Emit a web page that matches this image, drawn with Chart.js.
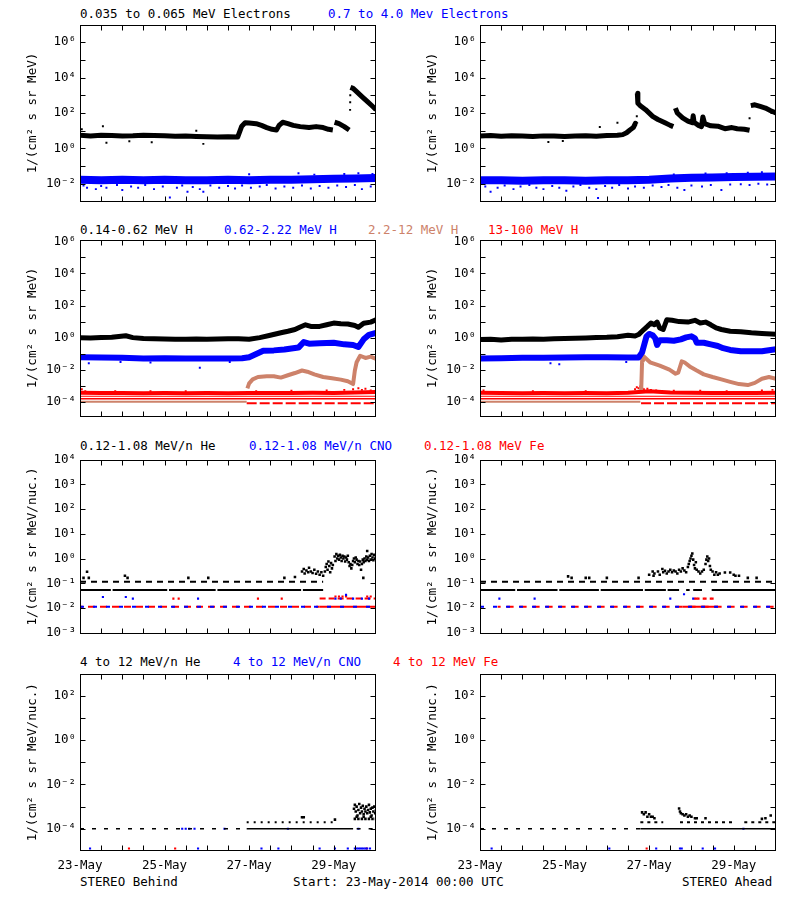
<!DOCTYPE html>
<html>
<head>
<meta charset="utf-8">
<script src="https://cdn.jsdelivr.net/npm/chart.js@4.4.1/dist/chart.umd.min.js"></script>
<style>
  body { margin: 0; background: #fff; width: 800px; height: 900px; position: relative; overflow: hidden;
         font-family: "DejaVu Sans Mono", monospace; font-size: 12.5px; }
  canvas { position: absolute; }
  .t { position: absolute; white-space: pre; line-height: 14px; }
</style>
</head>
<body>
<div class="t" style="left:80px;top:7px;color:#000">0.035 to 0.065 MeV Electrons</div>
<div class="t" style="left:328px;top:7px;color:#0000ff">0.7 to 4.0 Mev Electrons</div>
<div class="t" style="left:80px;top:223px;color:#000">0.14-0.62 MeV H</div>
<div class="t" style="left:224px;top:223px;color:#0000ff">0.62-2.22 MeV H</div>
<div class="t" style="left:368px;top:223px;color:#cd826a">2.2-12 MeV H</div>
<div class="t" style="left:488px;top:223px;color:#ff0000">13-100 MeV H</div>
<div class="t" style="left:80px;top:439px;color:#000">0.12-1.08 MeV/n He</div>
<div class="t" style="left:249px;top:439px;color:#0000ff">0.12-1.08 MeV/n CNO</div>
<div class="t" style="left:424px;top:439px;color:#ff0000">0.12-1.08 MeV Fe</div>
<div class="t" style="left:80px;top:655px;color:#000">4 to 12 MeV/n He</div>
<div class="t" style="left:233px;top:655px;color:#0000ff">4 to 12 MeV/n CNO</div>
<div class="t" style="left:393px;top:655px;color:#ff0000">4 to 12 MeV Fe</div>
<div class="t" style="left:80px;top:875px;color:#000">STEREO Behind</div>
<div class="t" style="left:293px;top:875px;color:#000">Start: 23-May-2014 00:00 UTC</div>
<div class="t" style="left:682px;top:875px;color:#000">STEREO Ahead</div>

<script>
const FONT = '"DejaVu Sans Mono", monospace';
const BLACK = '#000000', BLUE = '#0000ff', RED = '#ff0000', SIENNA = '#cd826a';

// time axis: hours since 23-May-2014 00:00 UTC
const hourTicks = [0, 12, 24, 36, 48, 60, 72, 84, 96, 108, 120, 132, 144, 156, 168];
const dayLabels = ['23-May', '25-May', '27-May', '29-May'];

// ---------- row 1: electrons ----------
// Behind
const eLoB_t = [0,6,12,18,24,30,36,42,48,54,60,66,72,78,84,89.5,91.8,93.7,96,100,103,106,109,111.5,113,115,118,121,125,130,134,138,141,143.5,144,144.5,147,150,152.8,153.2,153.5,155,157,160,163,166,168];
const eLoB_v = [5.5,5.0,5.6,5.3,5.0,5.2,5.6,5.4,5.2,4.8,5.0,4.7,4.5,4.4,4.6,4.4,18,28,27,25,20,15,12,11,20,30,25,20,17,15,17,15,12,11,null,30,25,17,11,null,2800,2450,1600,850,450,240,155];
const eLoB_x = [[1,12],[13,18],[15,2.1],[28,2.5],[40.7,2.2],[66,10],[70,1.8],[153.3,150],[153.35,400],[153.4,1000]];
const eHiB_v = [0.017,0.016,0.017,0.016,0.017,0.016,0.016,0.017,0.016,0.017,0.017,0.018,0.019,0.020,0.021];
const eHiB_x = [[2,0.008],[4,0.006],[9,0.005],[12,0.0075],[15,0.006],[21,0.0085],[24,0.0045],[29,0.007],[33,0.006],[37,0.0085],[42,0.005],[47,0.007],[51,0.0017],[55,0.006],[58,0.008],[61,0.0036],[64,0.0065],[68,0.005],[70,0.0036],[74,0.008],[79,0.006],[84,0.0075],[88,0.0055],[92,0.008],[97,0.006],[102,0.007],[106,0.0085],[111,0.0055],[116,0.007],[121,0.006],[126,0.008],[131,0.0055],[136,0.0075],[141,0.006],[146,0.008],[151,0.0065],[156,0.0085],[160,0.005],[165,0.007],[96,0.035],[124,0.04],[133,0.033],[150,0.036],[158,0.04],[166,0.036]];
// Ahead
const eLoA_t = [0,6,12,18,24,30,36,42,48,54,60,66,72,78,81,83.2,85.1,87,88.2,88.9,89.1,89.3,89.6,91,94,98,101,105,108,109.7,110.3,110.9,112,115,118,120.5,121,121.5,124,125.7,126.5,127.5,131,135,139,143,146,150,153,153.3,153.7,156,159,162,165,168];
const eLoA_v = [5.0,5.3,4.8,5.2,5.0,4.7,5.1,5.0,4.7,5.0,5.2,4.8,5.3,5.5,6.0,7.7,11,15,26,22,null,1300,360,260,155,65,43,28,20,17,null,190,100,53,35,28,70,30,20,17,60,25,19,18,13,15,13,12,10.5,null,260,290,235,190,135,100];
const eLoA_x = [[38.8,2.3],[47,2.6],[68,16],[78,28],[89,65],[153,50]];
const eHiA_v = [0.016,0.016,0.015,0.016,0.016,0.015,0.016,0.016,0.017,0.020,0.022,0.023,0.024,0.025,0.026];
const eHiA_x = [[3,0.007],[6,0.0036],[10,0.006],[14,0.008],[19,0.005],[23,0.007],[28,0.0085],[32,0.006],[36,0.005],[41,0.0075],[45,0.006],[49,0.004],[53,0.007],[57,0.0085],[62,0.006],[66,0.005],[67,0.0016],[71,0.0075],[75,0.006],[79,0.0085],[84,0.0055],[88,0.007],[93,0.006],[98,0.008],[103,0.0065],[107,0.0085],[112,0.006],[116,0.0045],[120,0.008],[126,0.007],[131,0.0085],[137,0.0045],[142,0.009],[148,0.0095],[153,0.0085],[158,0.01],[163,0.009],[110,0.034],[128,0.038],[140,0.04],[152,0.042],[160,0.045]];

// ---------- row 2: protons ----------
// Behind
const pLoB_t = [0,6,12,18,26,30,36,42,48,54,60,66,72,78,84,90,96,102,108,114,118,122,125,128,131,136,140,144,148,152,156,158,161,165,168];
const pLoB_v = [0.98,0.95,1.0,1.05,1.3,1.0,0.88,0.85,0.82,0.8,0.8,0.82,0.8,0.82,0.85,0.85,0.8,1.0,1.4,2.0,2.5,3.2,4.6,6.3,5.0,5.0,6.3,8.1,7.3,7.0,5.7,4.4,7.8,9.3,13];
const pMidB_t = [0,12,24,36,48,60,72,84,92,96,100,104,110,116,120,124,127,130,136,144,150,155,158,161,164,168];
const pMidB_v = [0.06,0.058,0.055,0.05,0.052,0.05,0.05,0.05,0.052,0.06,0.094,0.15,0.16,0.18,0.21,0.24,0.53,0.42,0.44,0.48,0.38,0.35,0.26,0.78,1.5,2.0];
const pMidB_x = [[5,0.025],[23,0.03],[68,0.013],[85,0.03],[40,0.028]];
const pHiB_base = [[0, 94.6], 1e-4];
const pHiB_t = [95,96,98,101,106,110,114,118,122,126,129,133,138,143,148,152,155,156,157,159,162,165,168];
const pHiB_v = [6.8e-4,1.4e-3,2.5e-3,3.5e-3,3.9e-3,3.9e-3,3.2e-3,4.5e-3,6.2e-3,8.9e-3,7.5e-3,5.1e-3,3.5e-3,2.9e-3,2.4e-3,1.9e-3,1.26e-3,8.9e-3,0.029,0.074,0.054,0.065,0.047];
const pTopB_v = [3.6e-4,3.5e-4,3.5e-4,3.4e-4,3.5e-4,3.4e-4,3.5e-4,3.4e-4,3.5e-4,3.5e-4,3.5e-4,3.6e-4,3.5e-4,3.8e-4,4.0e-4];
const pTopB_x = [[0,5e-4],[1,6e-4],[3,4.5e-4],[20,4.5e-4],[40,4.5e-4],[60,4.5e-4],[100,4.5e-4],[120,4.8e-4],[140,5e-4],[150,5.5e-4],[155,6e-4],[158,7e-4],[160,5.5e-4],[162,6.5e-4],[165,5e-4]];
const pTopB_low = [94.6, 168];
// Ahead
const pLoA_t = [0,6,12,18,24,30,36,42,48,54,60,66,72,78,84,88,90,93,95,97,99,100.5,102,104,106,109,113,118,122,125,128,131,134,137,142,148,154,160,168];
const pLoA_v = [0.75,0.8,0.72,0.8,0.78,0.82,0.8,0.85,0.88,0.9,0.95,1.0,1.05,1.15,1.4,1.25,1.55,3.2,5,8.1,6.3,9.3,4.0,3.2,13,12,10,9.3,12,8.1,9.3,6.3,4.0,3.2,2.5,2.3,2.0,1.8,1.6];
const pMidA_t = [0,12,24,36,48,60,72,84,90,92,93,94.5,96,98,99.5,100.5,102,106,110,114,117,120,122,123,127,131,135,138,142,148,154,160,168];
const pMidA_v = [0.05,0.052,0.055,0.055,0.058,0.06,0.06,0.058,0.058,0.12,0.30,1.2,1.7,1.4,0.9,0.35,0.68,0.68,0.64,0.78,1.03,1.2,0.9,0.48,0.48,0.38,0.3,0.22,0.17,0.14,0.14,0.14,0.19];
const pMidA_x = [[40,0.025],[45,0.022],[83,0.03]];
const pHiA_base = [[0, 91], 1e-4];
const pHiA_t = [91.5,92,92.5,96.5,102,107.5,111,112.5,114.5,116,119,123,127,132,137,142,147,152,156,160,164,168];
const pHiA_v = [5.4e-4,0.036,0.074,0.029,0.018,0.01,5.6e-3,6.5e-3,0.033,0.029,0.016,8.9e-3,5.1e-3,3.5e-3,2.5e-3,1.75e-3,1.26e-3,1.1e-3,1.5e-3,2.7e-3,3.5e-3,2.7e-3];
const pTopA_v = [3.6e-4,3.5e-4,3.4e-4,3.5e-4,3.4e-4,3.5e-4,3.4e-4,3.6e-4,4.5e-4,3.8e-4,3.6e-4,3.5e-4,3.5e-4,3.5e-4,3.6e-4];
const pTopA_x = [[2,5e-4],[30,4.5e-4],[60,4.6e-4],[88,6e-4],[89,8e-4],[90,7e-4],[91,9e-4],[92,7.5e-4],[93,6e-4],[95,6.5e-4],[97,5.5e-4],[100,5e-4],[110,4.8e-4],[125,4.8e-4],[140,4.6e-4],[160,5e-4],[166,5.5e-4]];
const pTopA_low = [91.4, 168];
// count-rate floor levels of the 13-100 MeV channel
const pTopLevels = [2.2e-4, 1.55e-4, 8.1e-5];

// ---------- row 3: 0.12-1.08 MeV/n ions ----------
const heLevel = 0.053, heLevel2 = 0.115, ionLevel = 0.0112, ionLevel2 = 0.024;
// Behind
const heB_segs = [[0,17.5],[18.5,49.5],[50.5,77],[78,125.5],[126.5,138]];
const heB_dot = [[0,138]];
const heB_pts = [[2,0.165],[4,0.29],[5,0.165],[25.5,0.2],[27,0.165],[61.5,0.165],[72.8,0.165],[116,0.165],[122,0.18],
  [126,0.3],[127,0.38],[127.5,0.25],[128.5,0.33],[129.5,0.28],[130,0.42],[131,0.3],[132,0.26],[133,0.35],[134,0.24],[135,0.3],[136,0.22],[137,0.28],[138,0.2],
  [139,0.3],[139.5,0.45],[140,0.6],[140.5,0.35],[141,0.75],[141.5,0.5],[142,0.28],[142.5,0.65],[143,0.4],[143.5,0.55],
  [144.5,1.2],[145,0.8],[145.5,1.5],[146,1.0],[146.5,1.3],[147,0.9],[147.5,1.4],[148,1.1],[148.5,0.8],[149,1.3],[149.5,1.0],[150,1.2],[150.5,0.75],[151,1.1],[151.5,0.9],[152,1.3],[152.5,0.7],[153,0.5],[153.5,0.6],[154,0.4],[154.5,0.55],[155,0.8],[155.5,1.0],[156,0.7],[156.5,1.1],[157,0.9],[157.5,0.6],[158,0.8],[158.5,0.55],[159,0.75],[159.5,0.35],[160,0.6],[160.5,0.9],[160.8,0.165],[161,0.7],[161.5,1.0],[162,0.8],[162.5,1.2],[163,0.9],[163,2.0],[163.5,1.1],[164,0.8],[164.5,1.3],[165,0.9],[165.5,1.5],[166,1.1],[166.5,0.85],[167,1.4],[167.5,1.0],[168,1.2]];
const cnoB_pts = [[13,0.028],[26,0.028],[30,0.024],[67,0.024],[145,0.024],[148,0.024],[151,0.034],[155,0.024],[160,0.024],[164,0.024]];
const feB_pts = [[53,0.024],[56,0.024],[101,0.024],[114.5,0.024],[145,0.029],[147,0.029],[149,0.029],[151,0.029],[163,0.029],[165,0.029]];
const feB_solid = [[136,168]];
// Ahead
const heA_segs = [[0,20],[21,44],[45,67.5],[68.5,92.5],[93.5,105.5],[106.5,113],[117,119],[121,126],[131.5,168]];
const heA_dot = [[0,168]];
const heA_pts = [[50,0.19],[52,0.165],[60,0.165],[62,0.165],[72,0.165],[90,0.165],[98.5,0.2],[145,0.2],[147,0.2],[152,0.165],[157,0.165],
  [96,0.22],[98,0.3],[99,0.25],[101,0.3],[102,0.22],[103.5,0.38],[104,0.28],[105,0.32],[106,0.25],[107,0.3],[108,0.35],[109,0.28],[110,0.33],[111,0.3],[112,0.25],[113,0.35],[114,0.3],[115,0.4],[116,0.33],[117,0.28],[118,0.45],[118.5,0.6],[119,0.8],[119.5,1.0],[120,1.3],[120.5,1.6],[121,0.9],[121.5,0.55],[122,0.4],[122.5,0.7],[123,0.35],[124,0.3],[125,0.25],[126,0.3],[127,0.35],[128,0.6],[128.5,0.9],[129,1.2],[129.5,0.8],[130,1.0],[130.5,0.5],[131,0.35],[132,0.3],[133,0.22],[134,0.28],[135,0.22],[136,0.25],[139,0.27],[142,0.27],[144,0.22]];
const cnoA_pts = [[11,0.024],[31,0.024],[108,0.024],[115.8,0.036],[121,0.024]];
const feA_pts = [[122,0.024],[123,0.024],[124,0.024],[127,0.024],[128,0.024],[131,0.024],[132,0.024]];
const feA_solid = [[115,135]];

// ---------- row 4: 4-12 MeV/n ions ----------
const he4Level = 1e-4, he4Level2 = 2e-4, floor4 = 1.3e-5;
// Behind
const he4B_dash = [[0,94.6],[157,168]];
const he4B_solid = [[94.6,155]];
const he4B_dot = [[94.6,143.8]];
const he4B_pts = [[126,3.3e-4],[127,3.3e-4],[144.7,2.6e-4],
  [155.5,8e-4],[156,1.2e-3],[156.5,6e-4],[157,1.0e-3],[157.5,4e-4],[158,7e-4],[158.5,1.3e-3],[159,5e-4],[159.5,9e-4],[160,6e-4],[160.5,1.1e-3],[161,4.5e-4],[161.5,8e-4],[162,6e-4],[162.5,1.0e-3],[163,5e-4],[163.5,7e-4],[164,1.2e-3],[164.5,5.5e-4],[165,8e-4],[165.5,4e-4],[166,9e-4],[166.5,6e-4],[167,1.0e-3],[167.5,5e-4],[168,7e-4],
  [156,2.8e-4],[158,2.8e-4],[160,2.8e-4],[162,2.8e-4],[164,2.8e-4],[166,2.8e-4],[168,2.8e-4],[157,3.5e-4],[161,3.5e-4],[165,3.5e-4]];
const cno4B_pts = [[5.7,1.3e-5],[67,1.3e-5],[103,1.3e-5],[112.6,1.3e-5],[136,1.3e-5],[144.7,1.3e-5],[152,1.3e-5],[156,1.3e-5],[157,1.3e-5],[158,1.3e-5],[159,1.3e-5],[160,1.3e-5],[161,1.3e-5],[162,1.3e-5],[163,1.3e-5],[164.6,1.3e-5],
  [58,1e-4],[60,1e-4],[62,1e-4],[65,1e-4],[82,1e-4],[118,1e-4],[158,1e-4]];
const fe4B_pts = [[27.8,1.3e-5],[54,1.3e-5],[162.7,1.3e-5]];
// Ahead
const he4A_dash = [[0,91]];
const he4A_solid = [[91,168]];
const he4A_dot = [[91,104],[113.5,143.8],[150,168]];
const he4A_pts = [[92,5.5e-4],[93,4.5e-4],[94,5.5e-4],[95,3.5e-4],[96,4.5e-4],[97,3.5e-4],[98,3.5e-4],[99,3e-4],[113,8.3e-4],[113.5,6e-4],[114,5e-4],[115,4.5e-4],[116,4e-4],[117,4.5e-4],[118,3.5e-4],[119,4e-4],[120,3.5e-4],[122,3e-4],[123,3e-4],[128,3e-4],[160,2.8e-4],[162,3e-4],[165,4e-4]];
const cno4A_pts = [[6.6,1.3e-5],[73.4,1.3e-5],[100,1.3e-5],[113.5,1.3e-5],[114.5,1.3e-5],[126.4,1.3e-5],[133.4,1.3e-5],[149.5,1e-4]];
const fe4A_pts = [[94.6,1.3e-5]];

// ---------- helpers ----------
const P = (t, v) => t.map((x, i) => ({ x: x, y: v[i] }));
const XY = pairs => pairs.map(p => ({ x: p[0], y: p[1] }));
function segs(list, value) {
  const out = [];
  list.forEach(s => { out.push({ x: s[0], y: value }, { x: s[1], y: value }, { x: s[1], y: null }); });
  return out;
}
function line(data, color, width, extra) {
  return Object.assign({ data: data, showLine: true, borderColor: color, borderWidth: width,
    borderJoinStyle: 'round', borderCapStyle: 'butt',
    pointRadius: 0, fill: false, spanGaps: false, tension: 0 }, extra || {});
}
function dots(data, color, r) {
  return { data: data, showLine: false, pointStyle: 'rect', pointRadius: r || 1.5,
    backgroundColor: color, borderWidth: 0 };
}
function sup(n) {
  const m = { '-': '\u207B', '0': '\u2070', '1': '\u00B9', '2': '\u00B2', '3': '\u00B3', '4': '\u2074', '5': '\u2075', '6': '\u2076', '7': '\u2077' };
  return String(n).split('').map(c => m[c]).join('');
}

// box with inward tick marks on all four sides
const frame = {
  id: 'frame',
  afterDraw(chart) {
    const { ctx, chartArea: a, scales: { x, y } } = chart;
    const L = Math.round(a.left) + 0.5, R = Math.round(a.right) - 0.5;
    const T = Math.round(a.top) + 0.5, B = Math.round(a.bottom) - 0.5;
    ctx.save();
    ctx.strokeStyle = '#000';
    ctx.lineWidth = 1;
    ctx.strokeRect(L, T, R - L, B - T);
    ctx.beginPath();
    x.ticks.forEach(t => {
      const px = Math.round(x.getPixelForValue(t.value)) + 0.5;
      if (px <= L + 1 || px >= R - 1) return;
      ctx.moveTo(px, B); ctx.lineTo(px, B - 5);
      ctx.moveTo(px, T); ctx.lineTo(px, T + 5);
    });
    y.ticks.forEach(t => {
      const py = Math.round(y.getPixelForValue(t.value)) + 0.5;
      if (py <= T + 1 || py >= B - 1) return;
      ctx.moveTo(L, py); ctx.lineTo(L + 5, py);
      ctx.moveTo(R, py); ctx.lineTo(R - 5, py);
    });
    ctx.stroke();
    ctx.restore();
  }
};

function makePanel(cfg) {
  const xh = cfg.bottom ? 30 : 10;
  const cv = document.createElement('canvas');
  cv.width = 400;
  cv.height = cfg.h + 10 + xh;
  cv.style.left = (cfg.col * 400) + 'px';
  cv.style.top = (cfg.top - 10) + 'px';
  document.body.appendChild(cv);
  const decades = [];
  for (let e = cfg.lo; e <= cfg.hi; e++) decades.push(e);
  new Chart(cv.getContext('2d'), {
    type: 'scatter',
    data: { datasets: cfg.datasets },
    options: {
      responsive: false, animation: false, devicePixelRatio: 1,
      layout: { padding: { top: 10, right: 24, left: 0, bottom: 0 } },
      plugins: { legend: { display: false }, tooltip: { enabled: false } },
      scales: {
        x: {
          type: 'linear', min: 0, max: 168,
          grid: { display: false, drawTicks: false }, border: { display: false },
          afterBuildTicks: s => { s.ticks = hourTicks.map(v => ({ value: v })); },
          afterFit: s => { s.height = xh; },
          ticks: { display: !!cfg.bottom, autoSkip: false, maxRotation: 0, padding: 7, color: '#000',
            font: { family: FONT, size: 12.5 },
            callback: v => (v % 48 === 0 && v < 168) ? dayLabels[v / 48] : '' }
        },
        y: {
          type: 'logarithmic', min: cfg.min, max: cfg.max,
          grid: { display: false, drawTicks: false }, border: { display: false },
          afterBuildTicks: s => { s.ticks = decades.map(e => ({ value: Math.pow(10, e) })); },
          afterFit: s => { s.width = 80; },
          ticks: { autoSkip: false, padding: 4, color: '#000', font: { family: FONT, size: 12.5 },
            callback: v => { const e = Math.round(Math.log10(v)); return cfg.labels.includes(e) ? '10' + sup(e) : ''; } },
          title: { display: true, text: cfg.title, color: '#000', font: { family: FONT, size: 12.5 },
            padding: { top: 25, bottom: 0 } }
        }
      }
    },
    plugins: [frame]
  });
}

const T1 = '1/(cm\u00B2 s sr MeV)';
const T2 = '1/(cm\u00B2 s sr MeV/nuc.)';

// row 1
const row1 = { top: 23, h: 180, min: 1e-3, max: 1e7, lo: -3, hi: 7, labels: [-2, 0, 2, 4, 6], title: T1 };
makePanel(Object.assign({}, row1, { col: 0, datasets: [
  line(P(eLoB_t, eLoB_v), BLACK, 5), dots(XY(eLoB_x), BLACK, 1.4),
  line(P(hourTicks, eHiB_v), BLUE, 8), dots(XY(eHiB_x), BLUE, 1.4)
]}));
makePanel(Object.assign({}, row1, { col: 1, datasets: [
  line(P(eLoA_t, eLoA_v), BLACK, 5), dots(XY(eLoA_x), BLACK, 1.4),
  line(P(hourTicks, eHiA_v), BLUE, 8), dots(XY(eHiA_x), BLUE, 1.4)
]}));

// row 2
const row2 = { top: 238, h: 180, min: Math.pow(10, -4.92), max: Math.pow(10, 6.12), lo: -4, hi: 6, labels: [-4, -2, 0, 2, 4, 6], title: T1 };
makePanel(Object.assign({}, row2, { col: 0, datasets: [
  line(P(pLoB_t, pLoB_v), BLACK, 5),
  line(P(pMidB_t, pMidB_v), BLUE, 6), dots(XY(pMidB_x), BLUE, 1.4),
  line(segs([pHiB_base[0]], pHiB_base[1]), SIENNA, 2),
  line(P(pHiB_t, pHiB_v), SIENNA, 4),
  line(P(hourTicks, pTopB_v), RED, 4), dots(XY(pTopB_x), RED, 1.4),
  line(segs([[0, 168]], pTopLevels[0]), RED, 1),
  line(segs([[0, 168]], pTopLevels[1]), RED, 1.5),
  line(segs([pTopB_low], pTopLevels[2]), RED, 2, { borderDash: [10, 3] })
]}));
makePanel(Object.assign({}, row2, { col: 1, datasets: [
  line(P(pLoA_t, pLoA_v), BLACK, 5),
  line(P(pMidA_t, pMidA_v), BLUE, 6), dots(XY(pMidA_x), BLUE, 1.4),
  line(segs([pHiA_base[0]], pHiA_base[1]), SIENNA, 2),
  line(P(pHiA_t, pHiA_v), SIENNA, 4),
  line(P(hourTicks, pTopA_v), RED, 4), dots(XY(pTopA_x), RED, 1.4),
  line(segs([[0, 168]], pTopLevels[0]), RED, 1),
  line(segs([[0, 168]], pTopLevels[1]), RED, 1.5),
  line(segs([pTopA_low], pTopLevels[2]), RED, 2, { borderDash: [10, 3] })
]}));

// row 3
const row3 = { top: 458, h: 177, min: Math.pow(10, -3.03), max: 1e4, lo: -3, hi: 4, labels: [-3, -2, -1, 0, 1, 2, 3, 4], title: T2 };
makePanel(Object.assign({}, row3, { col: 0, datasets: [
  dots(XY(heB_pts), BLACK, 1.8),
  line(segs(heB_segs, heLevel), BLACK, 2),
  line(segs(heB_dot, heLevel2), BLACK, 2, { borderDash: [6, 5] }),
  dots(XY(cnoB_pts), BLUE, 1.5),
  line(segs([[0, 168]], ionLevel), BLUE, 2, { borderDash: [4, 9] }),
  dots(XY(feB_pts), RED, 1.5),
  line(segs(feB_solid, ionLevel2), RED, 2, { borderDash: [6, 3] }),
  line(segs(feB_solid, ionLevel), RED, 2),
  line(segs([[0, 136]], ionLevel), RED, 2, { borderDash: [7, 5], borderDashOffset: 4 })
]}));
makePanel(Object.assign({}, row3, { col: 1, datasets: [
  dots(XY(heA_pts), BLACK, 1.8),
  line(segs(heA_segs, heLevel), BLACK, 2),
  line(segs(heA_dot, heLevel2), BLACK, 2, { borderDash: [6, 5] }),
  dots(XY(cnoA_pts), BLUE, 1.5),
  line(segs([[0, 168]], ionLevel), BLUE, 2, { borderDash: [4, 9] }),
  dots(XY(feA_pts), RED, 1.5),
  line(segs(feA_solid, ionLevel), RED, 2),
  line(segs([[10, 168]], ionLevel), RED, 2, { borderDash: [7, 6], borderDashOffset: 4 })
]}));

// row 4
const row4 = { top: 672, h: 179, min: 1e-5, max: 1e3, lo: -5, hi: 3, labels: [-4, -2, 0, 2], title: T2, bottom: true };
makePanel(Object.assign({}, row4, { col: 0, datasets: [
  dots(XY(he4B_pts), BLACK, 1.8),
  line(segs(he4B_solid, he4Level), BLACK, 1.5),
  line(segs(he4B_dash, he4Level), BLACK, 1.5, { borderDash: [4, 8] }),
  line(segs(he4B_dot, he4Level2), BLACK, 2, { borderDash: [2, 5] }),
  dots(XY(cno4B_pts), BLUE, 1.5),
  dots(XY(fe4B_pts), RED, 1.5)
]}));
makePanel(Object.assign({}, row4, { col: 1, datasets: [
  dots(XY(he4A_pts), BLACK, 1.8),
  line(segs(he4A_solid, he4Level), BLACK, 1.5),
  line(segs(he4A_dash, he4Level), BLACK, 1.5, { borderDash: [4, 8] }),
  line(segs(he4A_dot, he4Level2), BLACK, 2, { borderDash: [3, 4] }),
  dots(XY(cno4A_pts), BLUE, 1.5),
  dots(XY(fe4A_pts), RED, 1.5)
]}));
</script>
</body>
</html>
